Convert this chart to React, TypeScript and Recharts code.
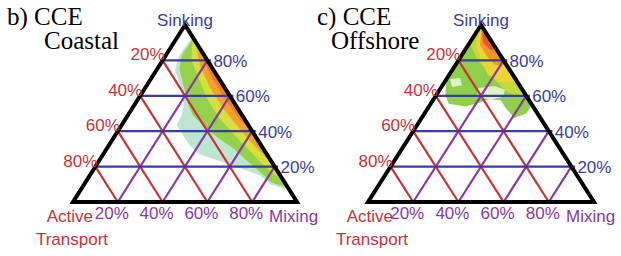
import React from "react";
import { ScatterChart, Scatter, XAxis, YAxis } from "recharts";

type Pair = [number, number]; // [sinking, mixing]

const tickValues = [0.2, 0.4, 0.6, 0.8];
const tickLabels = ["20%", "40%", "60%", "80%"];

// CCE Coastal density patches
const coastalTeal: Pair[] = [
  [0.93, 0.07], [0.905, 0.065], [0.83, 0.06], [0.75, 0.08], [0.63, 0.17],
  [0.55, 0.22], [0.49, 0.24], [0.435, 0.245], [0.38, 0.3], [0.32, 0.36],
  [0.27, 0.43], [0.21, 0.6], [0.15, 0.76], [0.1, 0.83], [0.075, 0.905], [0.08, 0.92],
];
const coastalGreen: Pair[] = [
  [0.925, 0.075], [0.9, 0.075], [0.83, 0.07], [0.75, 0.1], [0.65, 0.17],
  [0.55, 0.24], [0.49, 0.29], [0.42, 0.38], [0.36, 0.47], [0.3, 0.57],
  [0.24, 0.65], [0.17, 0.75], [0.11, 0.83], [0.08, 0.92],
];
const coastalYellow: Pair[] = [
  [0.92, 0.08], [0.88, 0.09], [0.8, 0.13], [0.7, 0.21], [0.58, 0.31],
  [0.47, 0.42], [0.38, 0.53], [0.3, 0.63], [0.22, 0.73], [0.15, 0.83], [0.12, 0.88],
];
const coastalOrange: Pair[] = [
  [0.88, 0.12], [0.84, 0.135], [0.76, 0.19], [0.65, 0.285], [0.52, 0.415],
  [0.42, 0.53], [0.33, 0.635], [0.26, 0.725], [0.22, 0.78],
];
const coastalDeep: Pair[] = [
  [0.86, 0.14], [0.8, 0.185], [0.7, 0.27], [0.56, 0.41], [0.46, 0.52], [0.38, 0.62],
];

// CCE Offshore density patches
const offshoreGreen: Pair[] = [
  [0.985, 0.0], [0.985, 0.015], [0.55, 0.45], [0.5, 0.45], [0.475, 0.41],
  [0.53, 0.345], [0.575, 0.3], [0.58, 0.25], [0.56, 0.21], [0.54, 0.16],
  [0.555, 0.08], [0.605, 0.04], [0.66, 0.015], [0.72, 0.0],
];
const offshoreHoleA: Pair[] = [
  [0.644, 0.165], [0.655, 0.234], [0.633, 0.29], [0.593, 0.3], [0.576, 0.252], [0.599, 0.183],
];
const offshoreHoleB: Pair[] = [[0.695, 0.015], [0.7, 0.057], [0.66, 0.086], [0.65, 0.047]];
const offshoreLime: Pair[] = [
  [0.97, 0.005], [0.887, 0.01], [0.8, 0.086], [0.72, 0.18], [0.63, 0.29],
  [0.59, 0.38], [0.59, 0.41], [0.97, 0.03],
];
const offshoreYellow: Pair[] = [
  [0.96, 0.01], [0.88, 0.04], [0.8, 0.1], [0.72, 0.17], [0.68, 0.24], [0.68, 0.32], [0.96, 0.04],
];
const offshoreOrange: Pair[] = [
  [0.97, 0.018], [0.887, 0.052], [0.82, 0.117], [0.774, 0.175], [0.774, 0.226], [0.97, 0.03],
];
const offshoreRed: Pair[] = [[0.96, 0.025], [0.9, 0.06], [0.86, 0.11], [0.86, 0.14], [0.96, 0.04]];

const RED = "#c6343a";
const PURPLE = "#8a3a9c";
const BLUE = "#3b3e98";
const SANS = "'Liberation Sans', Arial, sans-serif";
const SERIF = "'Liberation Serif', 'Times New Roman', serif";

// ternary -> cartesian (x across, y = sinking)
const pt = (s: number, m: number) => ({ x: m + s / 2, y: s });
const toPoints = (pairs: Pair[]) => pairs.map(([s, m]) => pt(s, m));

const polygon = (fill: string, opacity = 1) => (p: any) => (
  <path
    d={p.points.map((q: any, i: number) => `${i ? "L" : "M"}${q.x},${q.y}`).join("") + "Z"}
    fill={fill}
    fillOpacity={opacity}
    stroke="none"
  />
);

const outline = (p: any) => (
  <path
    d={p.points.map((q: any, i: number) => `${i ? "L" : "M"}${q.x},${q.y}`).join("") + "Z"}
    fill="none"
    stroke="#000"
    strokeWidth={4}
    strokeLinejoin="miter"
  />
);

const segments = (stroke: string) => (p: any) => {
  let d = "";
  for (let i = 0; i + 1 < p.points.length; i += 2) {
    d += `M${p.points[i].x},${p.points[i].y}L${p.points[i + 1].x},${p.points[i + 1].y}`;
  }
  return <path d={d} stroke={stroke} strokeWidth={2.2} fill="none" />;
};

const noDot = () => <g />;

const textShape =
  (color: string, anchor: string, dx: number, dy: number, baseline = "auto") =>
  (p: any) =>
    (
      <text
        x={p.cx + dx}
        y={p.cy + dy}
        textAnchor={anchor}
        dominantBaseline={baseline}
        fill={color}
        fontSize={17}
        fontFamily={SANS}
      >
        {p.payload.label}
      </text>
    );

const activeLines = tickValues.flatMap((a) => [pt(1 - a, 0), pt(0, 1 - a)]);
const mixingLines = tickValues.flatMap((m) => [pt(0, m), pt(1 - m, m)]);
const sinkingLines = tickValues.flatMap((s) => [pt(s, 0), pt(s, 1 - s + 0.016)]);
const frame = [pt(1, 0), pt(0, 0), pt(0, 1)];

const sinkingLabels = tickValues.map((s, i) => ({ ...pt(s, 1 - s), label: tickLabels[i] }));
const activeLabels = tickValues.map((a, i) => ({ ...pt(1 - a, 0), label: tickLabels[i] }));
const mixingLabels = tickValues.map((m, i) => ({ ...pt(0, m), label: tickLabels[i] }));

interface Blob {
  pairs: Pair[];
  fill: string;
  opacity?: number;
}

interface PanelProps {
  left: number;
  width: number;
  marginLeft: number;
  marginRight: number;
  blobs: Blob[];
  nameShift: number;
}

function TernaryPanel({ left, width, marginLeft, marginRight, blobs, nameShift }: PanelProps) {
  return (
    <div style={{ position: "absolute", left, top: 0 }}>
      <ScatterChart
        width={width}
        height={256}
        margin={{ top: 25, bottom: 54, left: marginLeft, right: marginRight }}
      >
        <XAxis type="number" dataKey="x" domain={[0, 1]} hide />
        <YAxis type="number" dataKey="y" domain={[0, 1]} hide />
        {blobs.map((b, i) => (
          <Scatter
            key={i}
            data={toPoints(b.pairs)}
            line={polygon(b.fill, b.opacity)}
            shape={noDot}
            isAnimationActive={false}
          />
        ))}
        <Scatter data={activeLines} line={segments(RED)} shape={noDot} isAnimationActive={false} />
        <Scatter data={mixingLines} line={segments(PURPLE)} shape={noDot} isAnimationActive={false} />
        <Scatter data={sinkingLines} line={segments(BLUE)} shape={noDot} isAnimationActive={false} />
        <Scatter data={frame} line={outline} shape={noDot} isAnimationActive={false} />
        <Scatter
          data={sinkingLabels}
          shape={textShape(BLUE, "start", 6, 1, "central")}
          isAnimationActive={false}
        />
        <Scatter data={activeLabels} shape={textShape(RED, "end", 2, 0)} isAnimationActive={false} />
        <Scatter data={mixingLabels} shape={textShape(PURPLE, "middle", -6, 17)} isAnimationActive={false} />
        <Scatter
          data={[{ ...pt(1, 0), label: "Sinking" }]}
          shape={textShape(BLUE, "middle", 0, 1)}
          isAnimationActive={false}
        />
        <Scatter
          data={[{ ...pt(0, 0), label: "Active" }]}
          shape={textShape(RED, "end", 20 + nameShift, 20)}
          isAnimationActive={false}
        />
        <Scatter
          data={[{ ...pt(0, 0), label: "Transport" }]}
          shape={textShape(RED, "middle", -1 + nameShift, 43)}
          isAnimationActive={false}
        />
        <Scatter
          data={[{ ...pt(0, 1), label: "Mixing" }]}
          shape={textShape(PURPLE, "start", -28, 20)}
          isAnimationActive={false}
        />
      </ScatterChart>
    </div>
  );
}

const coastalBlobs: Blob[] = [
  { pairs: coastalTeal, fill: "#6cc69a", opacity: 0.45 },
  { pairs: coastalGreen, fill: "#96d14c" },
  { pairs: coastalYellow, fill: "#d8de3c" },
  { pairs: coastalOrange, fill: "#f4a22e" },
  { pairs: coastalDeep, fill: "#ef7d24" },
];

const offshoreBlobs: Blob[] = [
  { pairs: offshoreGreen, fill: "#8fcf4c" },
  { pairs: offshoreHoleA, fill: "#ffffff", opacity: 0.7 },
  { pairs: offshoreHoleB, fill: "#ffffff", opacity: 0.7 },
  { pairs: offshoreLime, fill: "#c4da3c" },
  { pairs: offshoreYellow, fill: "#ecd43a" },
  { pairs: offshoreOrange, fill: "#f2962a" },
  { pairs: offshoreRed, fill: "#e8552a" },
];

export default function App() {
  return (
    <div
      style={{
        position: "fixed",
        left: 0,
        top: 0,
        width: 621,
        height: 256,
        background: "#fff",
        overflow: "hidden",
      }}
    >
      <TernaryPanel left={0} width={330} marginLeft={73} marginRight={33} blobs={coastalBlobs} nameShift={0} />
      <TernaryPanel left={310} width={311} marginLeft={58} marginRight={27} blobs={offshoreBlobs} nameShift={5} />
      <svg
        width={621}
        height={256}
        style={{ position: "absolute", left: 0, top: 0, pointerEvents: "none" }}
      >
        <g fontFamily={SERIF} fontSize={25} fill="#000">
          <text x={7} y={25}>b) CCE</text>
          <text x={44} y={49}>Coastal</text>
          <text x={317} y={25}>c) CCE</text>
          <text x={331} y={49}>Offshore</text>
        </g>
      </svg>
    </div>
  );
}
